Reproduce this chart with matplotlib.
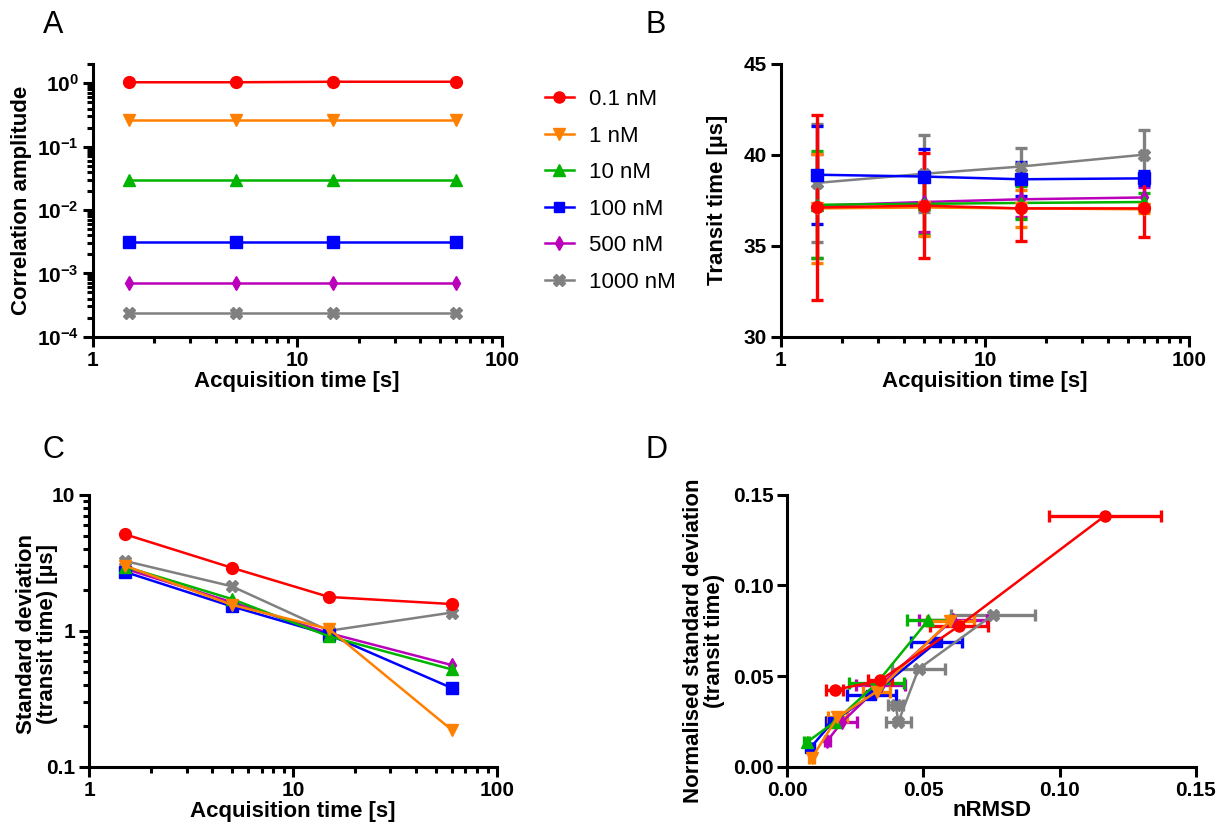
import math
import matplotlib
matplotlib.use("Agg")
import matplotlib.pyplot as plt
from matplotlib.ticker import FixedLocator, FuncFormatter, LogLocator, NullFormatter, FormatStrFormatter
from matplotlib.lines import Line2D

plt.rcParams['font.family'] = ['Liberation Sans', 'DejaVu Sans']
plt.rcParams['mathtext.fontset'] = 'custom'
plt.rcParams['mathtext.rm'] = 'Liberation Sans'
plt.rcParams['mathtext.bf'] = 'Liberation Sans:bold'

# ---------------- data ----------------
acq_times = [1.5, 5, 15, 60]
conc_labels = ['0.1 nM', '1 nM', '10 nM', '100 nM', '500 nM', '1000 nM']

# A: correlation amplitude
amp_01 = [1.04, 1.04, 1.06, 1.06]
amp_1 = [0.26, 0.26, 0.26, 0.26]
amp_10 = [0.030, 0.030, 0.030, 0.030]
amp_100 = [0.0031, 0.0031, 0.0031, 0.0031]
amp_500 = [0.00070, 0.00070, 0.00070, 0.00070]
amp_1000 = [0.00024, 0.00024, 0.00024, 0.00024]

# B: mean transit time [us]
tt_01 = [37.1, 37.2, 37.05, 37.05]
tt_1 = [37.05, 37.1, 37.05, 37.0]
tt_10 = [37.25, 37.3, 37.35, 37.4]
tt_100 = [38.9, 38.8, 38.65, 38.7]
tt_500 = [37.2, 37.4, 37.55, 37.65]
tt_1000 = [38.45, 38.95, 39.35, 40.0]

# C: standard deviation of transit time [us]
sd_01 = [5.1, 2.9, 1.77, 1.57]
sd_1 = [3.0, 1.55, 1.03, 0.187]
sd_10 = [2.95, 1.71, 0.91, 0.52]
sd_100 = [2.7, 1.51, 0.935, 0.38]
sd_500 = [2.85, 1.62, 0.96, 0.56]
sd_1000 = [3.25, 2.12, 1.0, 1.36]

# D: nRMSD (x, with x error) vs normalised SD (y)
nrmsd_01 = [0.1167, 0.0630, 0.0341, 0.0174]
nrmsd_err_01 = [0.0205, 0.0106, 0.0045, 0.0032]
nsd_01 = [0.1384, 0.0776, 0.0476, 0.0423]

nrmsd_1 = [0.0598, 0.0328, 0.0184, 0.0089]
nrmsd_err_1 = [0.0086, 0.0049, 0.0034, 0.0008]
nsd_1 = [0.0805, 0.0414, 0.0272, 0.0046]

nrmsd_10 = [0.0518, 0.0328, 0.0175, 0.0071]
nrmsd_err_10 = [0.0079, 0.0100, 0.0020, 0.0008]
nsd_10 = [0.0809, 0.0460, 0.0248, 0.0134]

nrmsd_100 = [0.0548, 0.0309, 0.0167, 0.0083]
nrmsd_err_100 = [0.0093, 0.0089, 0.0026, 0.0008]
nsd_100 = [0.0686, 0.0395, 0.0248, 0.0101]

nrmsd_500 = [0.0607, 0.0343, 0.0200, 0.0147]
nrmsd_err_500 = [0.0125, 0.0089, 0.0055, 0.0010]
nsd_500 = [0.0810, 0.0450, 0.0245, 0.0143]

nrmsd_1000 = [0.0756, 0.0482, 0.0408, 0.0398]
nrmsd_err_1000 = [0.0154, 0.0096, 0.0047, 0.0028]
nsd_1000 = [0.0838, 0.0539, 0.0248, 0.0338]

amps = [amp_01, amp_1, amp_10, amp_100, amp_500, amp_1000]
tts = [tt_01, tt_1, tt_10, tt_100, tt_500, tt_1000]
sds = [sd_01, sd_1, sd_10, sd_100, sd_500, sd_1000]
nrmsds = [nrmsd_01, nrmsd_1, nrmsd_10, nrmsd_100, nrmsd_500, nrmsd_1000]
nrmsd_errs = [nrmsd_err_01, nrmsd_err_1, nrmsd_err_10, nrmsd_err_100, nrmsd_err_500, nrmsd_err_1000]
nsds = [nsd_01, nsd_1, nsd_10, nsd_100, nsd_500, nsd_1000]

colors = ['#FF0000', '#FF8000', '#00B400', '#0000FF', '#BB00BB', '#808080']
markers = ['o', 'v', '^', 's', 'd', 'X']
msizes = [8.5, 8.5, 8.5, 8, 7.5, 9]

# ---------------- layout ----------------
W, H = 1227, 825
fig = plt.figure(figsize=(W / 100, H / 100), dpi=100)


def add_ax(l, r, t, b):
    return fig.add_axes([l / W, 1 - b / H, (r - l) / W, (b - t) / H])


TICK_FS = 15
LABEL_FS = 16
LW = 1.8
SPINE = 2.2


def style(ax):
    for s in ['top', 'right']:
        ax.spines[s].set_visible(False)
    for s in ['left', 'bottom']:
        ax.spines[s].set_linewidth(SPINE)
    ax.tick_params(which='major', direction='out', length=7, width=SPINE,
                   labelsize=TICK_FS, pad=3)
    ax.tick_params(which='minor', direction='out', length=4, width=SPINE)
    for lab in ax.get_xticklabels() + ax.get_yticklabels():
        lab.set_fontweight('bold')


def log_x(ax):
    ax.set_xscale('log')
    ax.set_xlim(1, 100)
    ax.xaxis.set_major_locator(FixedLocator([1, 10, 100]))
    ax.xaxis.set_major_formatter(FuncFormatter(lambda v, p: '%g' % v))
    ax.xaxis.set_minor_locator(LogLocator(base=10, subs=range(2, 10)))
    ax.xaxis.set_minor_formatter(NullFormatter())


def px_to_axes(px, py, l, r, t, b):
    return ((px - l) / (r - l), (b - py) / (b - t))


def place_labels(ax, box, xl_y, yl_x, yl_y=None):
    ax.xaxis.label.set_va('center')
    ax.yaxis.label.set_va('center')
    if yl_y is None:
        yl_y = (box[2] + box[3]) / 2
    ax.xaxis.set_label_coords(*px_to_axes((box[0] + box[1]) / 2, xl_y, *box))
    ax.yaxis.set_label_coords(*px_to_axes(yl_x, yl_y, *box))


# ---------------- Panel A ----------------
A = (92.7, 501.7, 64, 336.7)
axA = add_ax(*A)
for i in range(len(conc_labels) - 1, -1, -1):
    axA.plot(acq_times, amps[i], color=colors[i], marker=markers[i], ms=msizes[i],
             lw=LW, mec=colors[i], clip_on=False)
log_x(axA)
axA.set_yscale('log')
axA.set_ylim(1e-4, 2.02)
axA.yaxis.set_major_locator(FixedLocator([1e-4, 1e-3, 1e-2, 1e-1, 1e0]))
axA.yaxis.set_major_formatter(FuncFormatter(
    lambda v, p: r'$\mathbf{10^{%d}}$' % round(math.log10(v))))
axA.yaxis.set_minor_locator(LogLocator(base=10, subs=range(2, 10)))
axA.yaxis.set_minor_formatter(NullFormatter())
style(axA)
axA.set_xlabel('Acquisition time [s]', fontsize=LABEL_FS, fontweight='bold')
axA.set_ylabel('Correlation amplitude', fontsize=LABEL_FS, fontweight='bold')
place_labels(axA, A, 382, 22)

# ---------------- Panel B ----------------
B = (781, 1189, 63.7, 336.7)
axB = add_ax(*B)
for i in range(len(conc_labels) - 1, -1, -1):
    axB.errorbar(acq_times, tts[i], yerr=sds[i], color=colors[i], marker=markers[i],
                 ms=msizes[i], lw=LW, elinewidth=2.4, capsize=4, capthick=2.4,
                 mec=colors[i], clip_on=False)
log_x(axB)
axB.set_ylim(30, 45)
axB.yaxis.set_major_locator(FixedLocator([30, 35, 40, 45]))
axB.yaxis.set_major_formatter(FormatStrFormatter('%d'))
style(axB)
axB.set_xlabel('Acquisition time [s]', fontsize=LABEL_FS, fontweight='bold')
axB.set_ylabel('Transit time [µs]', fontsize=LABEL_FS, fontweight='bold')
place_labels(axB, B, 382, 717)

# ---------------- Panel C ----------------
C = (89.3, 497, 494.5, 767)
axC = add_ax(*C)
for i in range(len(conc_labels) - 1, -1, -1):
    axC.plot(acq_times, sds[i], color=colors[i], marker=markers[i], ms=msizes[i],
             lw=LW, mec=colors[i], clip_on=False)
log_x(axC)
axC.set_yscale('log')
axC.set_ylim(0.1, 10)
axC.yaxis.set_major_locator(FixedLocator([0.1, 1, 10]))
axC.yaxis.set_major_formatter(FuncFormatter(lambda v, p: '%g' % v))
axC.yaxis.set_minor_locator(LogLocator(base=10, subs=range(2, 10)))
axC.yaxis.set_minor_formatter(NullFormatter())
style(axC)
axC.set_xlabel('Acquisition time [s]', fontsize=LABEL_FS, fontweight='bold')
axC.set_ylabel('Standard deviation\n(transit time) [µs]', fontsize=LABEL_FS,
               fontweight='bold', linespacing=1.05)
place_labels(axC, C, 811, 37, 634)

# ---------------- Panel D ----------------
D = (787.3, 1195.7, 494.7, 766.7)
axD = add_ax(*D)
for i in range(len(conc_labels) - 1, -1, -1):
    axD.errorbar(nrmsds[i], nsds[i], xerr=nrmsd_errs[i], color=colors[i],
                 marker=markers[i], ms=msizes[i] - 0.5, lw=LW, elinewidth=2.4,
                 capsize=4, capthick=2.4, mec=colors[i], clip_on=False)
axD.set_xlim(0, 0.15)
axD.set_ylim(0, 0.15)
axD.xaxis.set_major_locator(FixedLocator([0, 0.05, 0.10, 0.15]))
axD.yaxis.set_major_locator(FixedLocator([0, 0.05, 0.10, 0.15]))
axD.xaxis.set_major_formatter(FormatStrFormatter('%.2f'))
axD.yaxis.set_major_formatter(FormatStrFormatter('%.2f'))
style(axD)
axD.set_xlabel('nRMSD', fontsize=LABEL_FS, fontweight='bold')
axD.set_ylabel('Normalised standard deviation\n(transit time)', fontsize=LABEL_FS,
               fontweight='bold', linespacing=1.05)
place_labels(axD, D, 811, 704, 641)

# ---------------- panel letters ----------------
for letter, x, y in [('A', 43, 33), ('B', 645, 33), ('C', 43, 458), ('D', 645, 458)]:
    fig.text(x / W, 1 - y / H, letter, fontsize=22, ha='left', va='baseline')

# ---------------- legend ----------------
handles = [Line2D([], [], color=colors[i], marker=markers[i], ms=msizes[i] - 0.5,
                  lw=LW, mec=colors[i]) for i in range(len(conc_labels))]
fig.legend(handles, conc_labels, loc='upper left',
           bbox_to_anchor=(545 / W, 1 - 89 / H), frameon=False,
           fontsize=16, handlelength=1.3, handletextpad=0.7,
           labelspacing=0.7, borderpad=0, borderaxespad=0)

fig.savefig('out.png', dpi=100)
